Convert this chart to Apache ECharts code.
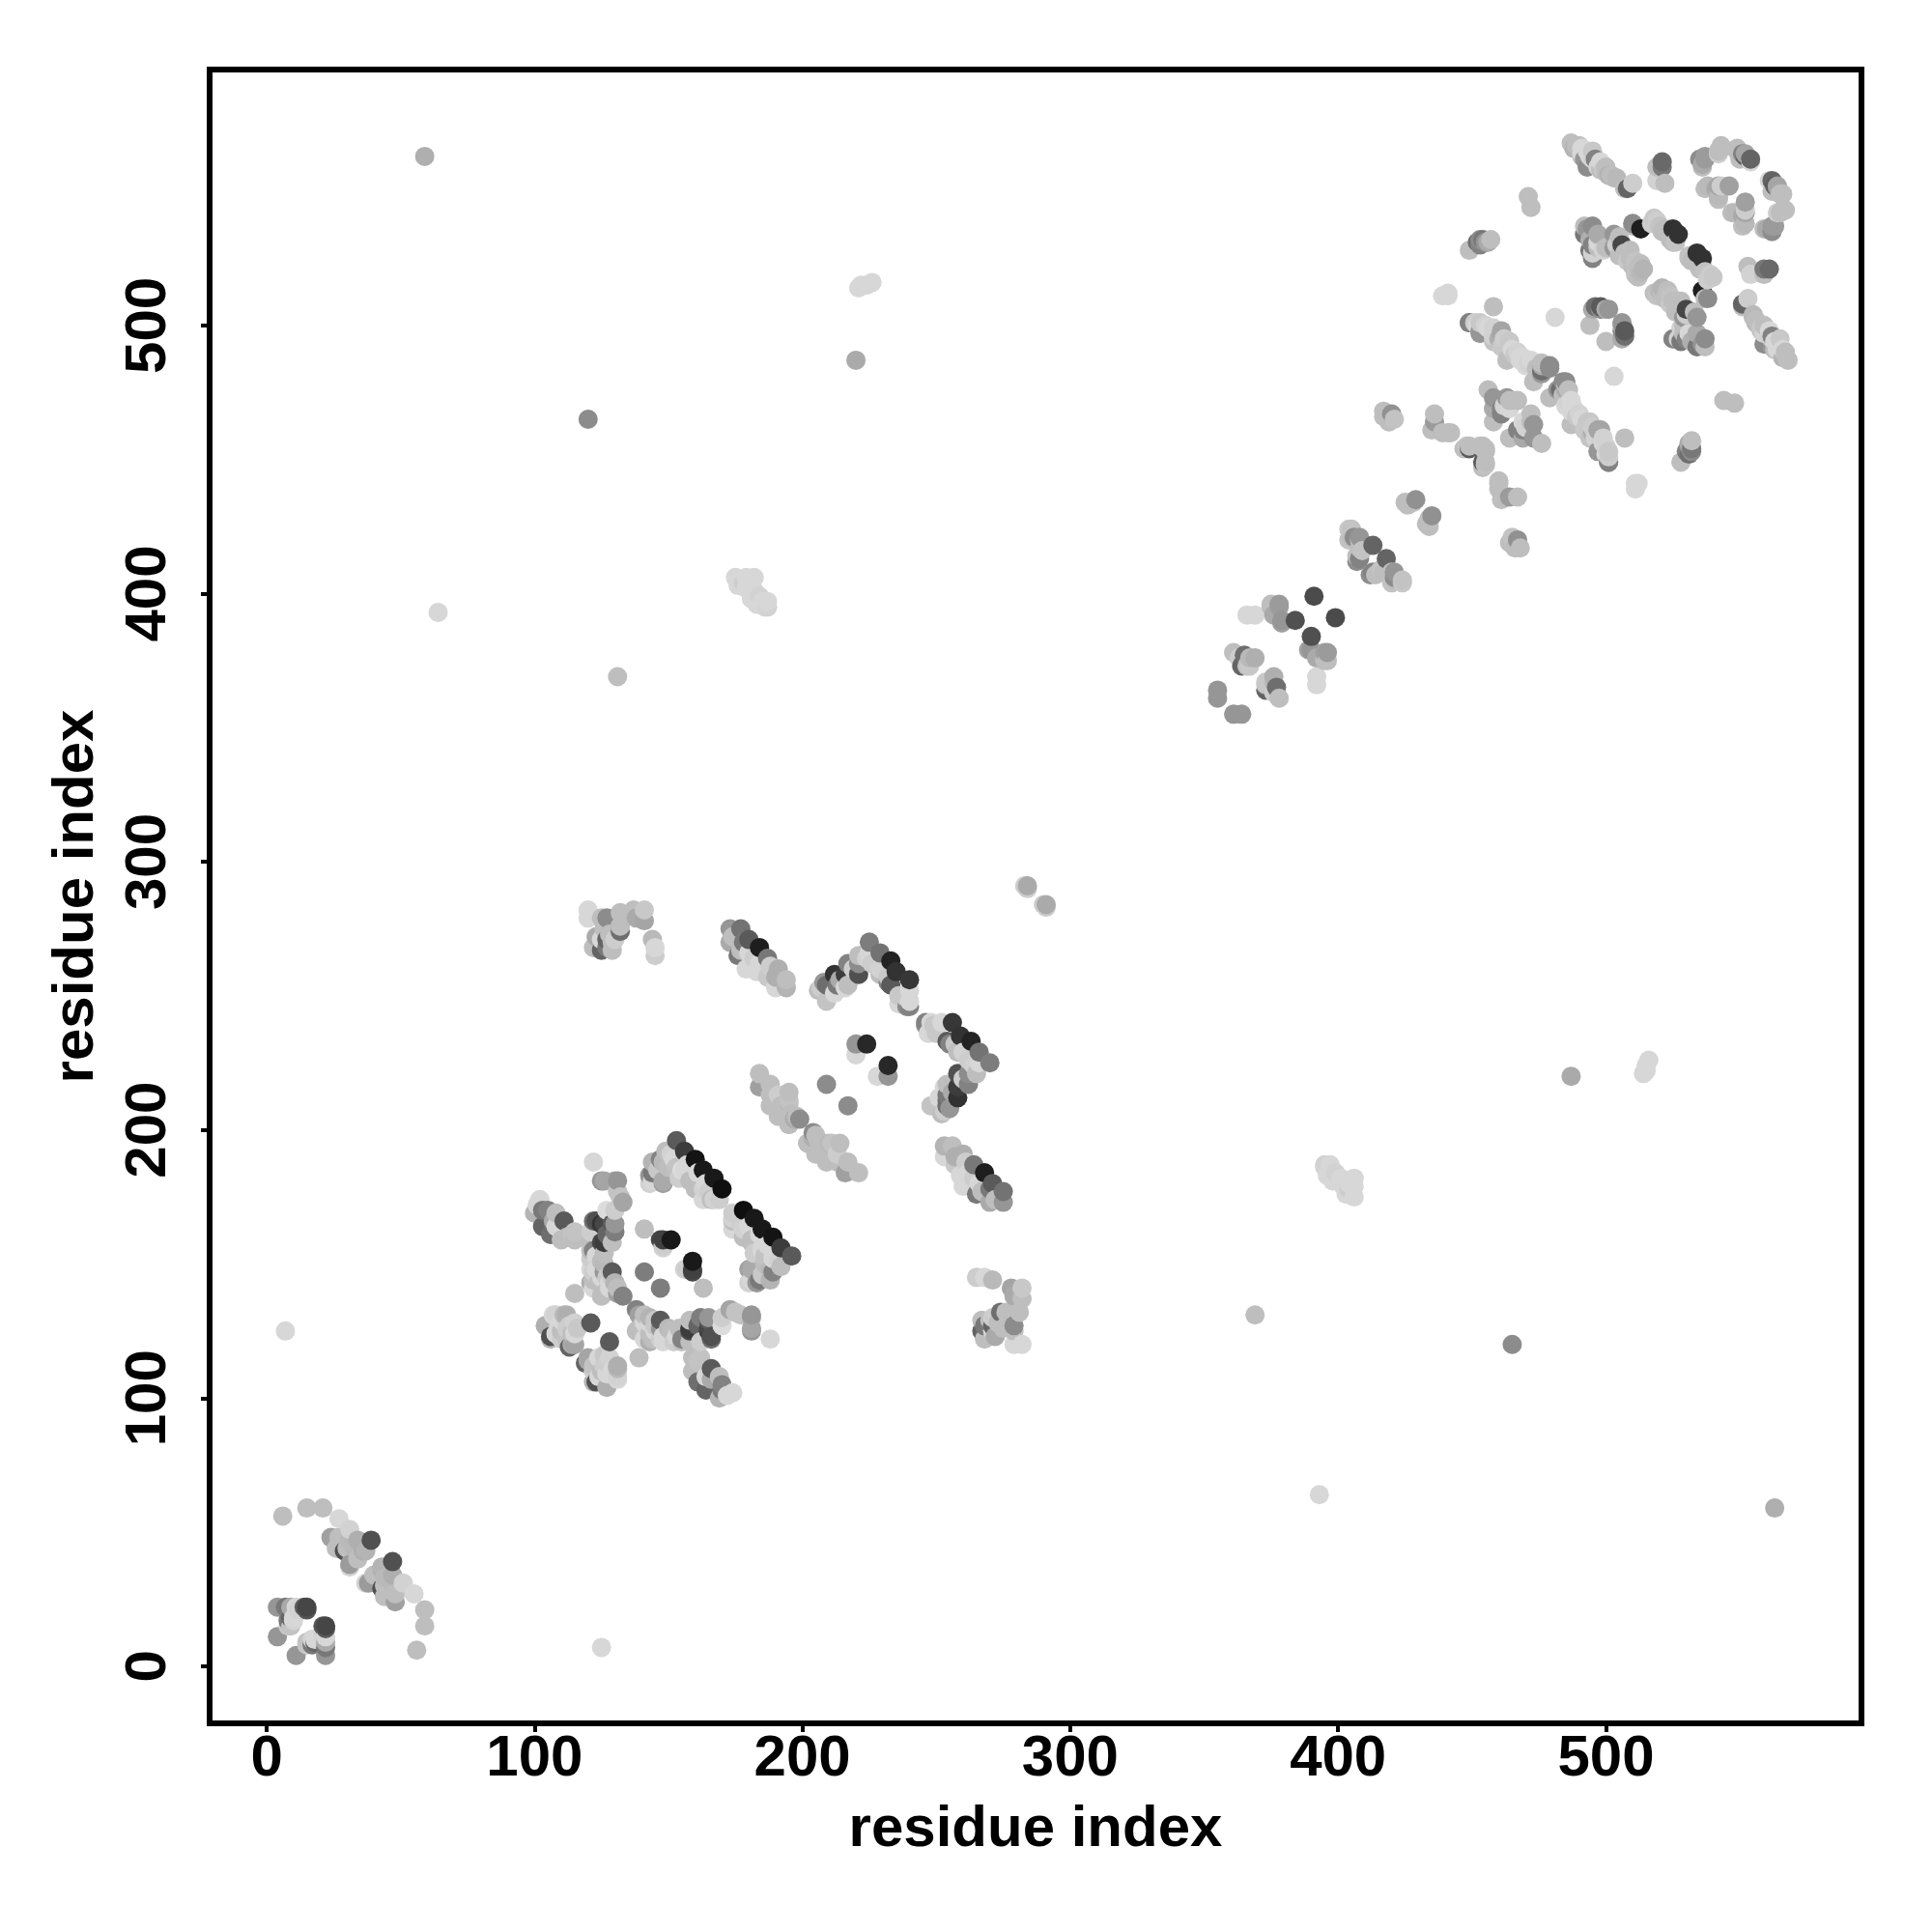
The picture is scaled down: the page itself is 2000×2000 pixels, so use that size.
<!DOCTYPE html>
<html><head><meta charset="utf-8">
<style>html,body{margin:0;padding:0;background:#fff}#c{width:2000px;height:2000px}</style>
<script src="https://cdn.jsdelivr.net/npm/echarts@6/dist/echarts.min.js"></script>
</head><body><div id="c"></div>
<script>
// Contacts: [residue i, residue j, grey level]; the contact map is symmetric, i < j here.
const axisTicks = [0,100,200,300,400,500];
const axisTitle = "residue index";
const isolated = [[7,125,215],[59,563,175],[64,393,215],[120,465,140],[131,369,190],[220,487,170],
 [221,514,215],[222,515,215],[224,515,215],[226,516,215],[284,290,205],[284,291,170],[283,291,205],
 [175,406,215],[179,406,215],[176,403,215],[178,404,205],[179,402,215],[182,401,215],[181,398,215],[185,397,215],[186,395,215],[184,399,210],[182,406,215],[180,404,215],[183,396,215],[187,397,215],[187,395,210]];
const nTerminus = [[6,56,190],[15,59,190],[21,59,190],[27,55,215],[31,51,210],[24,48,160],[26,44,190],[29,43,80],[31,47,185],[34,47,175],[39,47,80],[36,43,175],[34,40,190],[31,38,155],[31,37,212],[27,48,190],[30,44,190],[33,44,185],[37,43,180],
 [4,22,150],[7,22,120],[9,22,170],[11,22,215],[12,21,210],[15,21,85],[15,22,70],[4,11,150],[9,15,195],[10,17,210],[9,18,100],[8,17,120],[10,18,215],[8,15,200],[14,22,90]];
const core100 = [[100,169,180],[102,174,215],[103,164,100],[105,170,130],[106,161,110],[108,169,190],[111,166,90],[110,159,190],[114,161,195],[115,159,190],[115,162,195],[103,170,120],[107,166,170],[112,160,190],[108,164,215],[101,172,215],
 [122,188,215],[125,181,150],[126,181,165],[130,181,165],[131,181,150],[131,177,195],[132,175,195],[133,173,165],[130,170,205],[127,170,220],[123,166,80],[122,166,110],[125,165,50],[126,165,70],[129,165,90],[130,165,150],[130,162,125],[127,161,100],[121,162,205],[121,158,190],[125,158,70],[126,158,60],[122,155,130],[125,151,190],[121,155,190],
 [121,148,215],[126,147,150],[129,147,90],[126,150,185],[130,143,180],[133,138,130],[131,141,190],[125,138,190],[126,139,190],[121,143,175],[124,143,190],[122,144,190],[131,139,160],[129,145,200],[128,141,215],[123,148,215],[122,141,215],[127,140,190],[128,143,215],[122,147,205],[124,150,215],[123,153,215],[121,152,205],[126,154,190],[129,158,190],[127,145,200],[125,145,215],
 [104,127,175],[108,131,210],[107,131,215],[112,131,175],[111,131,185],[115,128,210],[115,124,215],[114,124,190],[106,123,80],[106,122,180],[108,124,215],[110,122,205],[113,119,100],[115,120,165],[114,120,170],[121,128,90],[115,139,190],[109,127,215],[112,126,205],[110,129,215],[116,126,200],[113,127,205],[110,125,190],[112,122,195],
 [141,163,190],[147,159,70],[151,159,25],[148,159,65],[148,157,205],[148,156,210],[141,147,125]];
const strand150 = [[153,196,90],[156,192,60],[160,189,20],[163,185,25],[167,182,25],[170,178,15],[144,188,180],[147,189,130],[143,183,150],[148,180,160],[143,180,210],[151,191,210],[155,185,220],[158,181,190],[164,180,215],[166,174,190],[167,174,210],[163,178,210],[159,181,190],[156,185,215],[148,188,185],[148,181,170],[144,184,120],[144,181,215],[153,186,195],[150,186,190],[146,185,200],[154,182,205],[160,178,190],[163,174,215],[149,192,190],[152,189,215],[157,187,215],[161,184,215],[165,177,205],[169,174,205]];
const patch270 = [[120,282,215],[120,279,215],[125,279,190],[127,279,140],[132,281,190],[132,276,190],[132,274,110],[137,282,190],[141,282,200],[141,278,165],[125,271,215],[122,268,190],[125,267,100],[129,267,190],[129,270,190],[128,273,190],[144,271,185],[145,268,215],[145,265,205],[123,272,170],[127,268,120],[126,275,190],[130,271,205],[127,271,100],[138,279,170],
 [173,275,150],[177,275,115],[173,270,170],[180,271,90],[184,268,30],[187,264,120],[177,267,190],[176,265,120],[182,264,205],[179,260,215],[183,259,215],[187,257,200],[191,260,175],[190,257,175],[194,256,190],[194,253,180],[190,253,215],[174,272,190],[178,270,120],[180,266,215],[184,262,215],[188,261,205]];
const chevron = [[225,270,125],[229,266,115],[233,263,35],[235,259,50],[240,256,55],[240,252,215],[240,248,215],[240,246,130],[236,247,215],[233,254,90],[232,257,200],[225,266,215],[221,265,190],[221,262,140],[221,258,80],[217,262,130],[216,258,60],[216,253,215],[212,258,50],[211,254,110],[212,251,215],[209,248,195],[208,255,150],[206,252,190],[224,264,210],[229,260,210],[232,255,130],[217,254,190],[213,254,120],[209,254,110],[207,253,205],[236,250,200],[239,249,200],[239,246,140],[229,258,190],[226,262,205],[214,256,170],[219,260,205],
 [220,232,150],[224,232,40],[220,228,215],[209,217,140],
 [184,221,190],[184,216,160],[188,217,190],[191,213,205],[195,214,190],[195,210,185],[188,209,190],[191,205,190],[198,205,190],[199,204,140],[195,202,190],[197,204,175],[195,202,190],[196,206,190],[195,211,195],[188,213,190],[192,209,190]];
const cluster375 = [[391,399,75],[384,390,80],[366,392,215],[369,392,215],[375,395,190],[378,395,160],[376,392,170],[379,389,160],[379,390,150],[378,396,155],[375,396,190],[361,378,190],[365,377,110],[369,376,175],[366,373,195],[367,373,200],[367,376,185],[355,364,150],[355,361,150],[363,376,205],[364,373,100],
 [405,424,195],[405,421,190],[408,421,150],[408,417,190],[413,418,100],[408,413,130],[407,412,140],[407,414,190],[406,421,140],[404,420,195],[404,424,200],[409,416,195],[408,420,190],
 [429,435,145],[428,434,190],[426,433,190],[425,434,190],[417,466,190],[420,467,145],[419,464,190],[417,468,190],[421,465,195]];
const strand450 = [[436,467,190],[436,464,155],[435,461,190],[439,460,190],[441,460,190],[442,460,190],[447,454,190],[449,454,90],[449,455,190],[448,455,195],[453,455,190],[454,455,190],[439,511,215],[441,511,215],[441,512,215],
 [449,528,190],[452,531,110],[453,530,130],[453,532,140],[454,532,120],[455,531,150],[456,531,170],[457,532,190],[471,548,190],[472,544,190],
 [456,476,190],[458,473,150],[464,472,190],[458,469,170],[462,470,210],[461,467,130],[458,464,190],[464,469,215],[461,469,130],[467,472,190],[463,473,150],
 [449,501,140],[451,501,205],[455,500,210],[458,507,190],[453,498,150],[461,498,165],[458,496,210],[464,494,200],[461,492,200],[468,488,215],[463,487,190],[476,485,170],[479,484,140],[476,483,110],[473,479,190],[470,485,215],
 [479,485,140],[476,482,150],[476,486,190],[468,487,215],[464,493,200],[461,497,165],[458,499,210],[453,501,200],[449,501,130],[453,497,150],[458,494,195],[456,499,215],[459,497,210],[462,495,205],[465,491,215],[467,490,210],[469,488,215],[471,486,210],[474,484,190],[460,495,175],[452,500,215],[466,489,200],[472,487,215],[478,485,190],
 [481,503,215],[494,500,190],[495,506,170],[496,507,110],[498,506,140],[501,506,150],[498,507,90],[500,506,170]];
const corner500 = [[487,568,190],[490,567,190],[493,565,215],[492,562,150],[495,562,210],[493,559,140],[497,559,210],[500,557,190],[501,556,180],[495,565,200],[491,563,190],[498,561,215],[499,558,200],[496,562,130],[502,556,190],[489,567,190],[491,566,215],[491,564,215],[494,563,215],[488,566,180],[503,555,190],[504,555,185],[500,559,190],[498,558,190],
 [510,553,205],[507,551,190],[508,551,100],[521,561,105],[521,559,120],[519,559,190],[519,554,210],[522,553,190],
 [536,560,170],[537,562,155],[542,565,190],[543,566,190],[549,565,190],[551,564,130],[552,563,90],[554,561,215],[550,562,190],[536,559,190],[535,562,140],[537,563,155],[542,564,205],[543,567,190],[549,566,190],[552,564,165],[554,562,100],
 [537,551,190],[541,551,170],[542,548,185],[546,552,160],[543,552,205],[542,552,165],[542,547,190],[538,552,185],
 [492,537,190],[495,537,140],[492,534,120],[497,534,170],[495,530,130],[495,525,130],[495,527,210],[499,528,210],[503,529,150],[505,533,190],[506,530,70],[510,538,140],[513,536,30],[493,536,150],[494,532,175],[497,531,215],[500,529,190],[497,529,190],[494,528,120],[504,530,205],[503,534,150],[510,537,190],
 [518,540,200],[520,537,195],[525,536,50],[527,534,50],[525,531,190],[522,536,190],[519,539,205],[517,538,205],[521,535,190],[524,532,190],[524,534,190],[526,531,195],
 [506,527,190],[509,525,190],[511,524,195],[513,520,185],[507,527,190],[510,522,190],[508,524,200],[512,521,190],[505,526,190],[511,519,195],[512,518,190],[514,521,180],[509,528,190],[513,523,190]];

const contacts = [].concat(isolated,nTerminus,core100,strand150,patch270,chevron,cluster375,strand450,corner500);
const points = [];
contacts.forEach(([i,j,g])=>{points.push([i,j,g]);points.push([j,i,g]);});
points.sort((a,b)=>a[0]-b[0]||a[1]-b[1]);

const chart = echarts.init(document.getElementById('c'),null,{renderer:'canvas'});
const font = 'Liberation Sans';
function axis(extra){
  return Object.assign({
    type:'value',min:-21.3,max:595.4,
    name:axisTitle,nameLocation:'middle',nameMoveOverlap:false,
    nameTextStyle:{fontFamily:font,fontWeight:'bold',fontSize:60,color:'#000'},
    axisLine:{show:false,onZero:false},splitLine:{show:false},
    axisTick:{show:true,length:9,lineStyle:{color:'#000',width:4},customValues:axisTicks}
  },extra);
}
chart.setOption({
  animation:false,backgroundColor:'#fff',
  grid:{left:217,right:73,top:72,bottom:216,show:true,borderColor:'#000',borderWidth:6,backgroundColor:'transparent'},
  xAxis:axis({nameGap:80,axisLabel:{customValues:axisTicks,fontFamily:font,fontWeight:'bold',fontSize:60,color:'#000',margin:7,formatter:v=>String(v)}}),
  yAxis:axis({nameGap:108,axisLabel:{customValues:axisTicks,rotate:90,fontFamily:font,fontWeight:'bold',fontSize:60,color:'#000',margin:33,align:'center',verticalAlign:'bottom',formatter:v=>String(v)}}),
  series:[{type:'scatter',data:points,symbol:'circle',symbolSize:20,large:false,
    itemStyle:{opacity:1,color:p=>{const g=p.value[2];return 'rgb('+g+','+g+','+g+')';}},
    emphasis:{disabled:true},silent:true,z:1}]
});
</script></body></html>
